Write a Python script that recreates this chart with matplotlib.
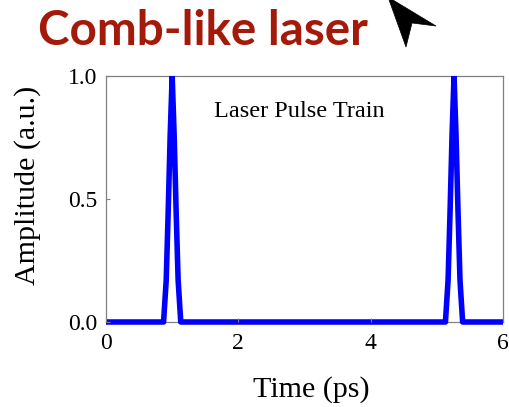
import matplotlib
matplotlib.use('Agg')
import matplotlib.pyplot as plt
from matplotlib.patches import Polygon, Rectangle

# two short laser pulses sampled on a coarse time grid
time_ps = [0.00, 0.87, 0.91, 0.94, 0.97, 1.00, 1.03, 1.06, 1.09, 1.13,
           5.13, 5.17, 5.20, 5.23, 5.26, 5.29, 5.32, 5.35, 5.39, 6.00]
amplitude = [0.00, 0.00, 0.17, 0.45, 0.76, 1.00, 0.76, 0.45, 0.17, 0.00,
             0.00, 0.17, 0.45, 0.76, 1.00, 0.76, 0.45, 0.17, 0.00, 0.00]

x_ticks = [0, 2, 4, 6]
y_ticks = [0.0, 0.5, 1.0]

W, H = 509, 407
serif = ['Liberation Serif', 'DejaVu Serif']

fig = plt.figure(figsize=(W / 100, H / 100), dpi=100)
ax = fig.add_axes([106 / W, 1 - 322 / H, (503 - 106) / W, (322 - 76) / H])

line, = ax.plot(time_ps, amplitude, color='#0000ff', lw=4.0,
                solid_capstyle='butt', zorder=1)
# let the thick baseline spill below the x axis, but keep the peaks flat
clip = Rectangle((0, -0.03), 1, 1.03, transform=ax.transAxes,
                 facecolor='none', edgecolor='none')
line.set_clip_path(clip)

ax.set_xlim(0, 6)
ax.set_ylim(0, 1)
ax.set_xticks(x_ticks)
ax.set_yticks(y_ticks)
ax.set_xticklabels([str(t) for t in x_ticks], family=serif, fontsize=17)
ax.set_yticklabels(['%.1f' % t for t in y_ticks], family=serif, fontsize=17)
ax.tick_params(direction='in', length=3, width=0.8, color='#808080')
ax.tick_params(axis='x', pad=8)
ax.tick_params(axis='y', pad=6)
for s in ax.spines.values():
    s.set_color('#808080')
    s.set_linewidth(0.9)
    s.set_zorder(0.5)

ax.text(1.63, 0.833, 'Laser Pulse Train', family=serif, fontsize=17.5,
        va='baseline', ha='left')

fig.text(311 / W, 1 - 397 / H, 'Time (ps)', family=serif, fontsize=21.6,
         ha='center', va='baseline')
fig.text(28 / W, 1 - 185 / H, 'Amplitude (a.u.)', family=serif, fontsize=21.6,
         rotation=90, ha='center', va='center')

fig.text(38 / W, 1 - 45 / H, 'Comb-like laser', family=['Lato', 'DejaVu Sans'],
         fontweight='bold', fontsize=34.3, color='#a31a0a',
         ha='left', va='baseline')

# pointer arrow in the top right corner
arrow_px = [(388, -3), (436, 26), (412, 23), (406, 47)]
arrow = Polygon([(x / W, 1 - y / H) for x, y in arrow_px], closed=True,
                facecolor='black', edgecolor='black', lw=0.5,
                transform=fig.transFigure)
fig.patches.append(arrow)

fig.savefig('out.png', dpi=100)
